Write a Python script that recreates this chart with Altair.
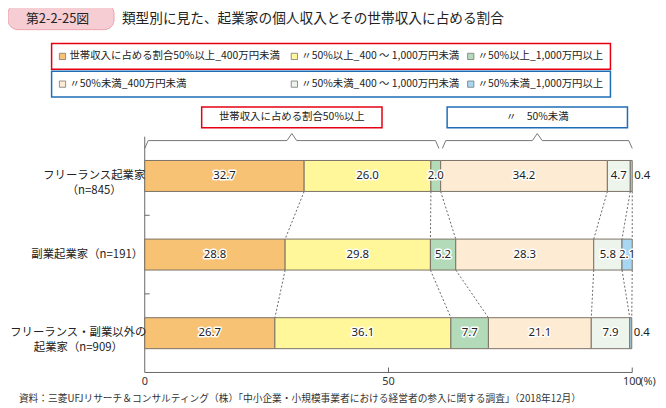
import altair as alt
import pandas as pd

# ---------------- data ----------------
figure_no = "第2-2-25図"
title_text = "類型別に見た、起業家の個人収入とその世帯収入に占める割合"
source_text = "資料：三菱UFJリサーチ＆コンサルティング（株）「中小企業・小規模事業者における経営者の参入に関する調査」（2018年12月）"

categories = ["フリーランス起業家\n（n=845）", "副業起業家（n=191）", "フリーランス・副業以外の\n起業家（n=909）"]
series = [
    "世帯収入に占める割合50%以上_400万円未満",
    "〃50%以上_400 ～ 1,000万円未満",
    "〃50%以上_1,000万円以上",
    "〃50%未満_400万円未満",
    "〃50%未満_400 ～ 1,000万円未満",
    "〃50%未満_1,000万円以上",
]
group_labels = ["世帯収入に占める割合50%以上", "〃　50%未満"]
group_sizes = [3, 3]

ge50_under400 = [32.7, 28.8, 26.7]
ge50_400to1000 = [26.0, 29.8, 36.1]
ge50_over1000 = [2.0, 5.2, 7.7]
lt50_under400 = [34.2, 28.3, 21.1]
lt50_400to1000 = [4.7, 5.8, 7.9]
lt50_over1000 = [0.4, 2.1, 0.4]

x_ticks = [0, 50, 100]
x_unit = "(%)"

# ---------------- style ----------------
colors = ["#F8C274", "#FFF799", "#B4DBB9", "#FDEBD3", "#EDF4EC", "#A7D7F3"]
group_colors = ["#E60012", "#1F6DB6"]
W, H = 492, 238
BAR_HALF = 0.197
JP = "Noto Sans CJK JP"
NUM = "Liberation Sans Narrow, Noto Sans, sans-serif"
AXIS_C = "#666666"
leg_x = [-83, 151, 329]
leg_y = [-81, -53]
cat_label_x = [-51, -58, -67]

series_values = [ge50_under400, ge50_400to1000, ge50_over1000,
                 lt50_under400, lt50_400to1000, lt50_over1000]

rows = []
for i, cat in enumerate(categories):
    cum = 0.0
    for j, s in enumerate(series):
        v = series_values[j][i]
        rows.append(dict(cat=cat, row=i, series=s, order=j, value=v,
                         start=cum, end=cum + v, mid=cum + v / 2,
                         y0=i + 0.5 - BAR_HALF, y1=i + 0.5 + BAR_HALF, yc=i + 0.5,
                         label=f"{v:.1f}"))
        cum += v
bars = pd.DataFrame(rows)

conn = []
for i in range(len(categories) - 1):
    for j in range(len(series)):
        a = bars[(bars.row == i) & (bars.order == j)].iloc[0]
        b = bars[(bars.row == i + 1) & (bars.order == j)].iloc[0]
        conn.append(dict(xa=a.end, xb=b.end, ya=a.y1, yb=b.y0))
conn = pd.DataFrame(conn)

first = bars[bars.row == 0]
brace_pts, headers = [], []
k0 = 0
gstart = 0.0
GAP = 0.35
for g, n in enumerate(group_sizes):
    gend = first[first.order < k0 + n].value.sum()
    a = gstart + (GAP if g > 0 else 0)
    b = gend - (GAP if g < len(group_sizes) - 1 else 0)
    c = (a + b) / 2
    pts = [(a, 0.15), (a + 0.7, 0.05), (c - 1.0, 0.05), (c, -0.04),
           (c + 1.0, 0.05), (b - 0.7, 0.05), (b, 0.15)]
    for o, (px, py) in enumerate(pts):
        brace_pts.append(dict(g=g, o=o, x=px, y=py))
    hw = 91 / W * 100
    headers.append(dict(g=g, c=c, x0=c - hw, x1=c + hw, label=group_labels[g]))
    gstart = gend
    k0 += n
brace = pd.DataFrame(brace_pts)
headers = pd.DataFrame(headers)

ticks_df = pd.DataFrame(dict(t=x_ticks, lab=[str(t) for t in x_ticks]))
yb_df = pd.DataFrame(dict(yb=list(range(1, len(categories)))))
one = pd.DataFrame({"a": [0]})

xs = alt.Scale(domain=[0, 100], nice=False, zero=False)
ys = alt.Scale(domain=[0, len(categories)], reverse=True, nice=False, zero=False)
cs = alt.Scale(domain=series, range=colors)

layers = []

# figure tag + title
layers.append(alt.Chart(one).mark_rect(cornerRadius=10, fill="#F6CDD2", stroke="#EBA3AD", strokeWidth=1).encode(
    x=alt.value(-138), x2=alt.value(-31), y=alt.value(-134), y2=alt.value(-108)))
layers.append(alt.Chart(one).mark_text(text=figure_no, font=JP, fontSize=13, color="#222", align="center", baseline="middle").encode(
    x=alt.value(-88), y=alt.value(-118.5)))
layers.append(alt.Chart(one).mark_text(text=title_text, font=JP, fontSize=13.8, color="#222", align="left", baseline="middle").encode(
    x=alt.value(-23), y=alt.value(-118.5)))

# legend boxes + items
for g, col in enumerate(group_colors):
    layers.append(alt.Chart(one).mark_rect(fill="white", stroke=col, strokeWidth=1.5).encode(
        x=alt.value(-94), x2=alt.value(470), y=alt.value(leg_y[g] - 13), y2=alt.value(leg_y[g] + 13)))
for j, s in enumerate(series):
    mx, my = leg_x[j % 3], leg_y[j // 3]
    layers.append(alt.Chart(one).mark_square(size=40, stroke="#777", strokeWidth=0.8, opacity=1, fill=colors[j]).encode(
        x=alt.value(mx), y=alt.value(my)))
    layers.append(alt.Chart(one).mark_text(text=s, font=JP, fontSize=10.5, color="#222", align="left", baseline="middle").encode(
        x=alt.value(mx + 7), y=alt.value(my)))

# group headers
for g, col in enumerate(group_colors):
    layers.append(alt.Chart(headers[headers.g == g]).mark_rect(fill="white", stroke=col, strokeWidth=1.5).encode(
        x=alt.X("x0:Q", scale=xs, axis=None), x2="x1:Q", y=alt.value(-30), y2=alt.value(-9)))
layers.append(alt.Chart(headers).mark_text(font=JP, fontSize=10.5, color="#222", align="center", baseline="middle").encode(
    x=alt.X("c:Q", scale=xs, axis=None), y=alt.value(-19.5), text="label:N"))

# brace
layers.append(alt.Chart(brace).mark_line(color="#777", strokeWidth=1).encode(
    x=alt.X("x:Q", scale=xs, axis=None), y=alt.Y("y:Q", scale=ys, axis=None), detail="g:N", order="o:Q"))

# axes
layers.append(alt.Chart(one).mark_rule(color=AXIS_C, strokeWidth=1).encode(
    x=alt.value(0), y=alt.value(0), y2=alt.value(H)))
layers.append(alt.Chart(one).mark_rule(color=AXIS_C, strokeWidth=1).encode(
    x=alt.value(0), x2=alt.value(W), y=alt.value(H)))
layers.append(alt.Chart(yb_df).mark_rule(color=AXIS_C, strokeWidth=1).encode(
    x=alt.value(0), x2=alt.value(5), y=alt.Y("yb:Q", scale=ys, axis=None)))
layers.append(alt.Chart(ticks_df[ticks_df.t > 0]).mark_rule(color=AXIS_C, strokeWidth=1).encode(
    x=alt.X("t:Q", scale=xs, axis=None), y=alt.value(H), y2=alt.value(H - 5)))
layers.append(alt.Chart(ticks_df).mark_text(font=NUM, fontSize=11, color="#333", align="center", baseline="middle").encode(
    x=alt.X("t:Q", scale=xs, axis=None), y=alt.value(H + 10), text="lab:N"))
layers.append(alt.Chart(ticks_df[ticks_df.t == ticks_df.t.max()]).mark_text(
    text=x_unit, font=NUM, fontSize=11, color="#333", align="left", baseline="middle", dx=8).encode(
    x=alt.X("t:Q", scale=xs, axis=None), y=alt.value(H + 10)))

# connectors
layers.append(alt.Chart(conn).mark_rule(color="#555", strokeWidth=0.9, strokeDash=[2, 2]).encode(
    x=alt.X("xa:Q", scale=xs, axis=None), x2="xb:Q", y=alt.Y("ya:Q", scale=ys, axis=None), y2="yb:Q"))

# bars
layers.append(alt.Chart(bars).mark_rect(stroke="#7a7266", strokeWidth=1).encode(
    x=alt.X("start:Q", scale=xs, axis=None), x2="end:Q",
    y=alt.Y("y0:Q", scale=ys, axis=None), y2="y1:Q",
    fill=alt.Fill("series:N", scale=cs, legend=None)))

inside = bars[bars.value >= 1]
outside = bars[bars.value < 1]
for halo in (True, False):
    kw = dict(stroke="white", strokeWidth=3, strokeJoin="round") if halo else {}
    layers.append(alt.Chart(inside).mark_text(font=NUM, fontSize=11.5, color="#222", align="center", baseline="middle", **kw).encode(
        x=alt.X("mid:Q", scale=xs, axis=None), y=alt.Y("yc:Q", scale=ys, axis=None), text="label:N"))
layers.append(alt.Chart(outside).mark_text(font=NUM, fontSize=11.5, color="#222", align="left", baseline="middle", dx=2).encode(
    x=alt.X("end:Q", scale=xs, axis=None), y=alt.Y("yc:Q", scale=ys, axis=None), text="label:N"))

# category labels
for i, cat in enumerate(categories):
    layers.append(alt.Chart(one).mark_text(text=cat, font=JP, fontSize=11.5, color="#222", align="center",
                                           baseline="middle", lineBreak="\n", lineHeight=15).encode(
        x=alt.value(cat_label_x[i]), y=alt.Y(datum=i + 0.5, scale=ys, axis=None)))

# source
layers.append(alt.Chart(one).mark_text(text=source_text, font=JP, fontSize=9.8, color="#333", align="left", baseline="middle").encode(
    x=alt.value(-127), y=alt.value(H + 27)))

chart = alt.layer(*layers).properties(
    width=W, height=H, autosize="none",
    padding={"left": 138, "top": 128, "right": 26, "bottom": 34},
).configure_view(stroke=None)

chart.save("out.html", embed_options={"renderer": "svg", "actions": False})
